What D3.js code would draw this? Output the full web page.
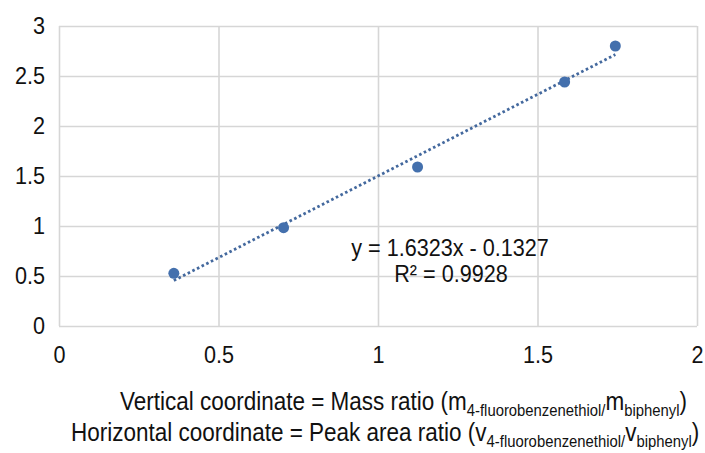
<!DOCTYPE html>
<html><head><meta charset="utf-8">
<script src="https://cdn.jsdelivr.net/npm/d3@7"></script>
<style>
body{margin:0;background:#fff}
text{font-family:"Liberation Sans",Arial,sans-serif;fill:#111}
</style>
</head><body>
<svg id="chart" width="705" height="453"></svg>
<script>
// ---- data ----
const xValues = [0.360, 0.704, 1.124, 1.585, 1.744];
const yValues = [0.527, 0.983, 1.590, 2.440, 2.800];
const xTicks = [0, 0.5, 1, 1.5, 2];
const yTicks = [0, 0.5, 1, 1.5, 2, 2.5, 3];
const slope = 1.6323;
const intercept = -0.1327;
const equationLabel = "y = 1.6323x - 0.1327";
const r2Label = "R\u00B2 = 0.9928";
const verticalCaption = ["Vertical coordinate = Mass ratio (m", "4-fluorobenzenethiol/", "m", "biphenyl", ")"];
const horizontalCaption = ["Horizontal coordinate = Peak area ratio (v", "4-fluorobenzenethiol/", "v", "biphenyl", ")"];

// ---- layout ----
const L = 59, R = 697, T = 26, B = 326;
const SX = 0.9;
const svg = d3.select("#chart");

const x = d3.scaleLinear().domain([0, 2]).range([L, R]);
const y = d3.scaleLinear().domain([0, 3]).range([B, T]);

const gridColor = "#d6d6d6";

// y axis with horizontal gridlines
const gy = svg.append("g").attr("transform", `translate(${L},0)`)
  .call(d3.axisLeft(y).tickValues(yTicks).tickFormat(d3.format("")).tickSize(-(R - L)).tickPadding(15.5));
gy.select(".domain").remove();
gy.selectAll(".tick line").attr("stroke", gridColor).attr("stroke-width", 1.6);
gy.selectAll(".tick text").attr("font-size", 24).attr("fill", "#111")
  .attr("transform", `scale(${SX},1)`);

// x axis with vertical gridlines
const gx = svg.append("g").attr("transform", `translate(0,${B})`)
  .call(d3.axisBottom(x).tickValues(xTicks).tickFormat(d3.format("")).tickSize(-(B - T)).tickPadding(20));
gx.select(".domain").remove();
gx.selectAll(".tick line").attr("stroke", gridColor).attr("stroke-width", 1.6);
gx.selectAll(".tick text").attr("font-size", 24).attr("fill", "#111")
  .attr("transform", `scale(${SX},1)`);

// trendline
const xmin = d3.min(xValues), xmax = d3.max(xValues);
const line = d3.line().x(d => x(d)).y(d => y(slope * d + intercept));
svg.append("path").datum([xmin, xmax]).attr("d", line)
  .attr("fill", "none").attr("stroke", "#44699e").attr("stroke-width", 2.8)
  .attr("stroke-dasharray", "2.6 2.6");

// points
svg.append("g").selectAll("circle").data(xValues).join("circle")
  .attr("cx", (d) => x(d)).attr("cy", (d, i) => y(yValues[i])).attr("r", 5.5)
  .attr("fill", "#4470ad");

// equation text
function scaledText(cx, cy, str, size, anchor) {
  return svg.append("text").attr("transform", `translate(${cx},${cy}) scale(${SX},1)`)
    .attr("text-anchor", anchor).attr("font-size", size).text(str);
}
scaledText(450, 256, equationLabel, 24, "middle");
scaledText(451, 282, r2Label, 24, "middle");

// captions
function caption(x0, y0, parts) {
  const t = svg.append("text").attr("transform", `translate(${x0},${y0}) scale(${SX},1)`)
    .attr("font-size", 25);
  parts.forEach((p, i) => {
    const sub = (i === 1 || i === 3);
    const ts = t.append("tspan").text(p);
    if (sub) ts.attr("font-size", 16.5).attr("dy", 5.5);
    else if (i > 0) ts.attr("dy", -5.5);
  });
}
caption(120, 410, verticalCaption);
caption(71, 441, horizontalCaption);
</script>
</body></html>
